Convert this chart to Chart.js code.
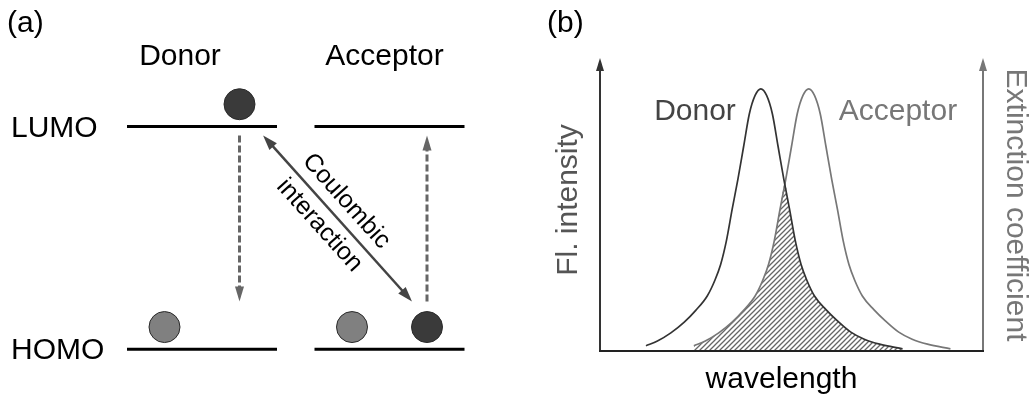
<!DOCTYPE html>
<html>
<head>
<meta charset="utf-8">
<script src="https://cdn.jsdelivr.net/npm/chart.js@4.4.1/dist/chart.umd.min.js"></script>
<style>
  html, body { margin: 0; padding: 0; background: #fff; }
  #wrap { position: relative; width: 1035px; height: 401px; }
  canvas { position: absolute; top: 0; }
  #levels { left: 0; }
  #spectra { left: 540px; }
</style>
</head>
<body>
<div id="wrap">
  <canvas id="levels" width="540" height="401"></canvas>
  <canvas id="spectra" width="495" height="401"></canvas>
</div>
<script>
var FONT = '"Liberation Sans", Arial, Helvetica, sans-serif';

// (a) energy levels: HOMO = 0, LUMO = 1, the two molecules side by side
var levelNames = ['HOMO', 'LUMO'];
var levelEnergy = [0, 1];
var moleculeNames = ['Donor', 'Acceptor'];
var moleculeStart = [0, 5];
var moleculeEnd = [4, 9];
// electrons sitting on the levels
var electronX = [3, 1, 6, 8];
var electronY = [1.1, 0.1, 0.1, 0.1];
var electronColor = ['#3a3a3a', '#808080', '#808080', '#3a3a3a'];
// dashed transitions: donor LUMO -> HOMO, acceptor HOMO -> LUMO
var transitionX = [3, 8];
var transitionFrom = [0.96, 0.215];
var transitionTo = [0.215, 0.96];
// coulombic interaction arrow (double headed)
var coulombX = [3.63, 7.6];
var coulombY = [0.96, 0.215];

// (b) spectral overlap, normalised
var donorNm = [424, 430, 437, 444, 450, 456, 460, 463, 466, 469, 472, 475, 478, 481, 484, 487, 490, 493, 496, 499, 502, 505, 508, 512, 518, 524, 531, 538, 546, 558];
var donorFl = [0.02, 0.038, 0.069, 0.11, 0.155, 0.21, 0.27, 0.33, 0.42, 0.54, 0.655, 0.78, 0.905, 0.975, 1.0, 0.975, 0.905, 0.78, 0.655, 0.54, 0.42, 0.33, 0.27, 0.21, 0.158, 0.115, 0.072, 0.045, 0.026, 0.008];
var acceptorNm = [449, 455, 462, 469, 475, 481, 485, 488, 491, 494, 497, 500, 503, 506, 509, 512, 515, 518, 521, 524, 527, 530, 533, 537, 543, 549, 556, 563, 571, 583];
var acceptorExt = [0.02, 0.038, 0.069, 0.11, 0.155, 0.21, 0.27, 0.33, 0.42, 0.54, 0.655, 0.78, 0.905, 0.975, 1.0, 0.975, 0.905, 0.78, 0.655, 0.54, 0.42, 0.33, 0.27, 0.21, 0.158, 0.115, 0.072, 0.045, 0.026, 0.008];
// hatched overlap (under both curves)
var overlapNm = [449, 455, 462, 469, 475, 481, 485, 488, 491, 494, 496.5, 499, 502, 505, 508, 512, 518, 524, 531, 538, 546, 558];
var overlapVal = [0.02, 0.038, 0.069, 0.11, 0.155, 0.21, 0.27, 0.33, 0.42, 0.54, 0.635, 0.54, 0.42, 0.33, 0.27, 0.21, 0.158, 0.115, 0.072, 0.045, 0.026, 0.008];

function pts(xs, ys) {
  return xs.map(function (x, i) { return { x: x, y: ys[i] }; });
}

function arrowHead(ctx, x1, y1, x2, y2, len, half) {
  var a = Math.atan2(y2 - y1, x2 - x1);
  var bx = x2 - len * Math.cos(a), by = y2 - len * Math.sin(a);
  ctx.beginPath();
  ctx.moveTo(x2, y2);
  ctx.lineTo(bx + half * Math.sin(a), by - half * Math.cos(a));
  ctx.lineTo(bx - half * Math.sin(a), by + half * Math.cos(a));
  ctx.closePath();
  ctx.fill();
}

//levels
var levelSets = [{
  type: 'scatter',
  data: pts(electronX, electronY),
  backgroundColor: electronColor,
  borderColor: '#2a2a2a',
  borderWidth: 1,
  pointRadius: 15.5,
  clip: false
}];
for (var m = 0; m < moleculeNames.length; m++) {
  for (var l = 0; l < levelEnergy.length; l++) {
    levelSets.push({
      type: 'line',
      data: [{ x: moleculeStart[m], y: levelEnergy[l] }, { x: moleculeEnd[m], y: levelEnergy[l] }],
      borderColor: '#000',
      borderWidth: 3,
      pointRadius: 0,
      clip: false
    });
  }
}

var levelDeco = {
  id: 'levelDeco',
  afterDatasetsDraw: function (chart) {
    var ctx = chart.ctx, xs = chart.scales.x, ys = chart.scales.y;
    ctx.save();
    // dashed transitions
    ctx.strokeStyle = '#666';
    ctx.fillStyle = '#666';
    ctx.lineWidth = 3;
    for (var i = 0; i < transitionX.length; i++) {
      var px = xs.getPixelForValue(transitionX[i]);
      var y1 = ys.getPixelForValue(transitionFrom[i]);
      var y2 = ys.getPixelForValue(transitionTo[i]);
      var dir = y2 > y1 ? 1 : -1;
      ctx.setLineDash([7, 3]);
      ctx.beginPath();
      ctx.moveTo(px, y1);
      ctx.lineTo(px, y2 - dir * 13);
      ctx.stroke();
      ctx.setLineDash([]);
      arrowHead(ctx, px, y1, px, y2, 15, 4.5);
    }
    // coulombic arrow
    var ax = xs.getPixelForValue(coulombX[0]), ay = ys.getPixelForValue(coulombY[0]);
    var bx = xs.getPixelForValue(coulombX[1]), by = ys.getPixelForValue(coulombY[1]);
    var ang = Math.atan2(by - ay, bx - ax);
    ctx.strokeStyle = '#444';
    ctx.fillStyle = '#444';
    ctx.lineWidth = 2.5;
    ctx.beginPath();
    ctx.moveTo(ax + 12 * Math.cos(ang), ay + 12 * Math.sin(ang));
    ctx.lineTo(bx - 12 * Math.cos(ang), by - 12 * Math.sin(ang));
    ctx.stroke();
    arrowHead(ctx, bx, by, ax, ay, 15, 5);
    arrowHead(ctx, ax, ay, bx, by, 15, 5);
    var mx = (ax + bx) / 2 - 7 * Math.cos(ang), my = (ay + by) / 2 - 7 * Math.sin(ang);
    ctx.translate(mx, my);
    ctx.rotate(ang);
    ctx.fillStyle = '#000';
    ctx.font = '25px ' + FONT;
    ctx.textAlign = 'center';
    ctx.textBaseline = 'middle';
    ctx.fillText('Coulombic', 0, -18);
    ctx.fillText('interaction', 0, 18);
    ctx.restore();

    // labels
    ctx.save();
    ctx.fillStyle = '#000';
    ctx.font = '30px ' + FONT;
    ctx.textBaseline = 'alphabetic';
    ctx.textAlign = 'left';
    ctx.fillText('(a)', 7, 32);
    for (var k = 0; k < levelNames.length; k++) {
      ctx.fillText(levelNames[k], 11, ys.getPixelForValue(levelEnergy[k]) + 10);
    }
    ctx.textAlign = 'center';
    var shift = [-22, -5];
    for (var n = 0; n < moleculeNames.length; n++) {
      var cx = (xs.getPixelForValue(moleculeStart[n]) + xs.getPixelForValue(moleculeEnd[n])) / 2;
      ctx.fillText(moleculeNames[n], cx + shift[n], 65);
    }
    ctx.restore();
  }
};

new Chart(document.getElementById('levels').getContext('2d'), {
  data: { datasets: levelSets },
  options: {
    responsive: false,
    animation: false,
    events: [],
    layout: { autoPadding: false, padding: { left: 127, right: 75.5, top: 70.8, bottom: 7.1 } },
    plugins: { legend: { display: false }, tooltip: { enabled: false } },
    scales: {
      x: { type: 'linear', min: 0, max: 9, display: false },
      y: { type: 'linear', min: -0.2, max: 1.25, display: false }
    }
  },
  plugins: [levelDeco]
});

//spectra
var ctxS = document.getElementById('spectra').getContext('2d');
var tile = document.createElement('canvas');
tile.width = 5;
tile.height = 5;
var tg = tile.getContext('2d');
tg.strokeStyle = '#666';
tg.lineWidth = 1.3;
tg.beginPath();
tg.moveTo(0, 5); tg.lineTo(5, 0);
tg.moveTo(-1, 1); tg.lineTo(1, -1);
tg.moveTo(4, 6); tg.lineTo(6, 4);
tg.stroke();
var hatch = ctxS.createPattern(tile, 'repeat');

var spectraDeco = {
  id: 'spectraDeco',
  afterDatasetsDraw: function (chart) {
    var ctx = chart.ctx, a = chart.chartArea, xs = chart.scales.x;
    ctx.save();
    // axes
    ctx.lineWidth = 2;
    ctx.strokeStyle = '#333';
    ctx.fillStyle = '#333';
    ctx.beginPath();
    ctx.moveTo(a.left, a.bottom + 1);
    ctx.lineTo(a.left, a.top + 8);
    ctx.stroke();
    arrowHead(ctx, a.left, a.bottom, a.left, a.top - 2, 13, 4);
    ctx.strokeStyle = '#777';
    ctx.fillStyle = '#777';
    ctx.beginPath();
    ctx.moveTo(a.right, a.bottom + 1);
    ctx.lineTo(a.right, a.top + 8);
    ctx.stroke();
    arrowHead(ctx, a.right, a.bottom, a.right, a.top - 2, 13, 4);
    ctx.strokeStyle = '#222';
    ctx.beginPath();
    ctx.moveTo(a.left - 1, a.bottom);
    ctx.lineTo(a.right + 1, a.bottom);
    ctx.stroke();

    // texts
    ctx.font = '30px ' + FONT;
    ctx.textBaseline = 'alphabetic';
    ctx.fillStyle = '#000';
    ctx.textAlign = 'left';
    ctx.fillText('(b)', 7, 32);
    ctx.textAlign = 'center';
    ctx.fillText('wavelength', (a.left + a.right) / 2 - 10, 388);

    var dPeak = xs.getPixelForValue(donorNm[donorFl.indexOf(Math.max.apply(null, donorFl))]);
    var aPeak = xs.getPixelForValue(acceptorNm[acceptorExt.indexOf(Math.max.apply(null, acceptorExt))]);
    ctx.fillStyle = '#444';
    ctx.textAlign = 'right';
    ctx.fillText('Donor', dPeak - 25, 120);
    ctx.fillStyle = '#777';
    ctx.textAlign = 'left';
    ctx.fillText('Acceptor', aPeak + 30, 120);

    ctx.save();
    ctx.translate(a.left - 23, 200);
    ctx.rotate(-Math.PI / 2);
    ctx.fillStyle = '#555';
    ctx.textAlign = 'center';
    ctx.fillText('Fl. intensity', 0, 0);
    ctx.restore();

    ctx.save();
    ctx.translate(a.right + 24, 205);
    ctx.rotate(Math.PI / 2);
    ctx.fillStyle = '#777';
    ctx.textAlign = 'center';
    ctx.fillText('Extinction coefficient', 0, 0);
    ctx.restore();
    ctx.restore();
  }
};

new Chart(ctxS, {
  type: 'line',
  data: {
    datasets: [
      {
        label: 'Donor',
        data: pts(donorNm, donorFl),
        borderColor: '#333',
        borderWidth: 1.7,
        pointRadius: 0,
        cubicInterpolationMode: 'monotone',
        fill: false
      },
      {
        label: 'Acceptor',
        data: pts(acceptorNm, acceptorExt),
        borderColor: '#777',
        borderWidth: 1.7,
        pointRadius: 0,
        cubicInterpolationMode: 'monotone',
        fill: false
      },
      {
        label: 'Overlap',
        data: pts(overlapNm, overlapVal),
        borderWidth: 0,
        borderColor: 'rgba(0,0,0,0)',
        backgroundColor: hatch,
        pointRadius: 0,
        cubicInterpolationMode: 'monotone',
        fill: 'origin'
      }
    ]
  },
  options: {
    responsive: false,
    animation: false,
    events: [],
    layout: { autoPadding: false, padding: { left: 60, right: 52, top: 60, bottom: 50 } },
    plugins: { legend: { display: false }, tooltip: { enabled: false } },
    scales: {
      x: { type: 'linear', min: 400, max: 600, display: false },
      y: { type: 'linear', min: 0, max: 1.11, display: false }
    }
  },
  plugins: [spectraDeco]
});
</script>
</body>
</html>
